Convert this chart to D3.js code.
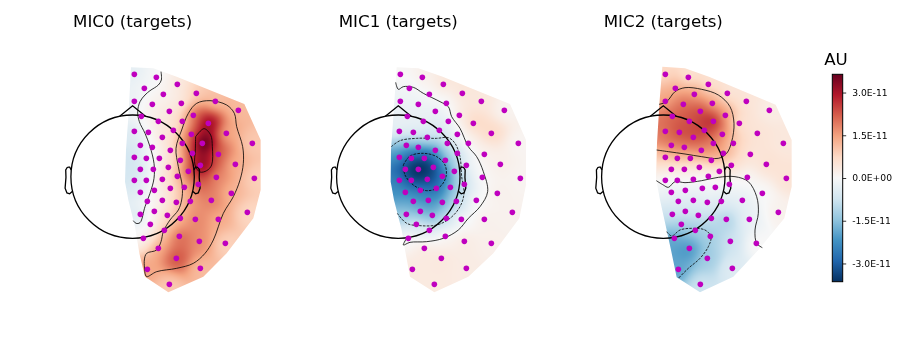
<!DOCTYPE html>
<html>
<head>
<meta charset="utf-8">
<script src="https://cdn.jsdelivr.net/npm/d3@7"></script>
<style>
  html, body { margin: 0; background: #fff; }
  #chart { position: relative; width: 900px; height: 355px; }
  #chart canvas, #chart svg { position: absolute; left: 0; top: 0; }
  text { font-family: "DejaVu Sans", sans-serif; }
</style>
</head>
<body>
<div id="chart"></div>
<script>
const titles = ["MIC0 (targets)", "MIC1 (targets)", "MIC2 (targets)"];

// Sensor positions
const sensorX0 = [253,319,283,382,340,439,253,307,394,496,358,430,565,274,325,397,475,253,295,370,337,424,529,271,307,361,397,457,607,253,289,328,391,427,505,271,310,355,415,451,556,253,289,337,382,499,613,271,313,361,403,445,544,292,337,379,421,484,271,313,352,391,436,505,592,301,343,388,448,526,280,325,379,451,292,358];
const sensorY0 = [73,82,115,103,133,130,154,163,160,154,184,196,181,199,214,214,220,244,247,241,262,253,250,286,292,301,280,280,280,322,325,325,331,310,313,358,358,352,364,346,343,391,391,388,379,382,385,427,421,415,412,403,430,454,451,457,454,451,493,484,496,505,508,508,487,523,541,559,574,580,565,595,625,655,658,703];
const sensorX1 = [241,307,268,370,328,427,241,295,379,484,346,418,553,262,310,385,460,238,280,358,322,412,514,259,295,346,382,445,595,238,274,313,376,412,493,256,295,340,403,439,541,238,274,322,367,487,601,256,301,349,391,433,532,280,325,367,409,469,259,301,337,379,424,493,577,289,328,376,433,514,265,313,364,439,277,343];
const sensorX2 = [241,310,271,370,328,427,241,295,382,484,346,421,553,262,313,385,463,241,283,358,325,412,517,259,298,349,385,445,595,241,277,316,379,415,496,259,298,343,403,439,544,241,277,325,370,487,604,259,301,352,391,433,532,280,325,367,409,472,262,301,340,379,424,493,580,289,331,376,436,514,268,313,367,442,280,346];

// Sensor values, in units of 1E-11 AU
const values0 = [-0.3,-0.03,-0.1,0.35,0.15,0.9,-0.2,0.15,0.5,1.2,0.4,1.9,1.2,0,0.3,1.0,3.0,-0.4,0,0.6,0.4,2.2,1.6,-0.4,0,0.6,1.5,3.5,1.0,-0.6,-0.2,0.2,1.2,2.6,2.3,-0.55,0,0.6,2.2,3.1,1.4,-0.55,-0.2,0.4,1.1,1.9,0.9,-0.35,0.1,0.6,1.3,2.1,1.3,-0.03,0.3,0.9,1.5,1.8,-0.3,0.2,0.7,1.3,1.7,1.4,0.8,0.1,1.0,1.9,1.7,0.9,0.2,1.3,2.2,1.2,1.4,1.0];
const values1 = [0.02,0.15,-0.1,0.35,0,0.4,-0.2,-0.2,0,0.4,-0.25,0.25,0.15,-0.3,-0.35,-0.25,0.6,-0.5,-0.6,-0.6,-0.9,-0.15,0.65,-1.7,-1.9,-2.0,-0.8,0.02,0.1,-2.3,-3.0,-3.1,-1.7,-0.8,0.15,-3.2,-3.6,-3.2,-1.4,-0.4,0.2,-2.6,-3.2,-3.2,-2.6,-0.02,0.1,-2.3,-2.6,-2.7,-1.7,-0.8,0.15,-2.0,-2.2,-1.8,-1.0,-0.1,-1.4,-1.7,-1.6,-0.8,-0.2,0.15,0.15,-0.7,-0.5,0,0.25,0.2,-0.1,0.25,0.35,0.3,0.35,0.35];
const values2 = [0.8,0.7,1.3,0.7,1.5,0.6,1.5,2.0,1.5,0.5,2.3,1.5,0.3,2.1,2.3,2.6,0.7,2.0,2.3,2.4,2.3,1.7,0.5,1.8,1.8,1.7,1.8,1.0,0.4,1.0,1.1,1.1,1.1,1.3,0.5,0.4,0.4,0.5,0.4,0.6,0.5,0.03,0.02,0.05,0.1,0.1,0.5,-0.25,-0.2,-0.15,-0.1,-0.05,0,-0.45,-0.45,-0.4,-0.45,-0.3,-0.8,-0.7,-0.8,-0.9,-1.0,-0.3,0.15,-1.2,-1.3,-1.2,-0.8,-0.02,-1.8,-2.0,-1.3,-0.5,-1.9,-0.8];

// Outlines of the interpolated area
const outline0 = [[243,52],[310,55],[380,80],[583,162],[632,270],[632,420],[610,505],[530,610],[460,680],[355,727],[285,680],[268,610],[255,530],[235,450],[225,395],[228,300],[235,200]];
const outline1 = [[230,52],[295,55],[368,80],[570,162],[618,270],[618,405],[598,505],[520,610],[445,680],[343,727],[270,680],[255,600],[245,540],[222,450],[212,395],[213,300],[220,200]];
const outline2 = [[232,50],[300,55],[372,80],[572,164],[620,270],[620,410],[598,505],[520,600],[445,680],[345,727],[275,682],[258,600],[245,540],[225,450],[213,385],[216,280],[224,150]];

// Contour lines, split in positive (solid) and negative (dashed)
const solid0 = [
  [[333,65],[334,90],[325,105],[300,122],[285,135],[270,155],[263,185],[268,215],[285,250],[300,290],[312,340],[312,385],[300,430],[285,470],[270,518],[258,520],[250,512]],
  [[285,670],[283,630],[290,610],[320,600],[333,575],[340,545],[360,510],[385,480],[395,450],[397,410],[385,350],[378,295],[395,240],[415,190],[440,160],[480,152],[530,165],[553,190],[560,230],[578,290],[580,340],[570,390],[550,440],[520,490],[490,570],[465,610],[430,640],[380,655],[320,665],[290,680],[285,670]],
  [[437,260],[462,236],[482,255],[487,290],[485,345],[470,362],[450,366],[435,345],[436,300],[437,260]]
];
const dashed0 = [];
const solid1 = [
  [[227,97],[235,118],[250,110],[280,112],[310,130],[360,155],[385,170],[395,200],[420,235],[445,290],[470,320],[490,365],[503,425],[480,470],[445,505],[415,540],[370,565],[320,575],[270,577],[250,585],[262,562]]
];
const dashed1 = [
  [[214,290],[240,272],[290,265],[350,265],[385,263],[405,280],[420,320],[425,380],[432,430],[420,470],[390,505],[350,525],[300,527],[260,520],[232,490]],
  [[250,345],[270,318],[310,310],[350,320],[375,345],[378,380],[360,410],[320,422],[280,405],[255,375],[250,345]]
];
const solid2 = [
  [[214,392],[235,405],[250,412],[270,395],[300,398],[350,392],[400,382],[450,380],[490,395],[515,440],[520,490],[510,540],[515,580],[532,593]],
  [[215,300],[250,305],[300,312],[350,320],[400,325],[425,310],[440,275],[447,220],[435,170],[400,135],[350,118],[300,113],[270,125],[245,155],[222,163]]
];
const dashed2 = [
  [[245,545],[260,558],[285,540],[320,535],[360,540],[378,560],[370,590],[345,625],[310,655],[280,685]]
];

// Head shape, in head radius units
const earX = [0.994,1.02,1.036,1.0598,1.0838,1.08,1.094,1.064,1.02,0.978];
const earY = [0.111,0.155,0.1566,0.1492,0.111,-0.011,-0.1864,-0.2626,-0.2768,-0.2398];
const noseX = [-0.2094,0,0.2094];
const noseY = [0.978,1.15,0.978];

// Colour bar
const colorStops = ["#053061","#2166ac","#4393c3","#92c5de","#d1e5f0","#f7f7f7","#fddbc7","#f4a582","#d6604d","#b2182b","#67001f"];
const colorTicks = [3, 1.5, 0, -1.5, -3];
const colorTickLabels = ["3.0E-11", "1.5E-11", "0.0E+00", "-1.5E-11", "-3.0E-11"];
const colorMax = 3.64;

const panels = [
  { title: titles[0], sx: sensorX0, values: values0, outline: outline0, solid: solid0, dashed: dashed0, left: 50, headX: 132.6 },
  { title: titles[1], sx: sensorX1, values: values1, outline: outline1, solid: solid1, dashed: dashed1, left: 320, headX: 398.3 },
  { title: titles[2], sx: sensorX2, values: values2, outline: outline2, solid: solid2, dashed: dashed2, left: 585, headX: 663.3 }
];

const W = 900;
const H = 355;
const headY = 176.7;
const headR = 61.7;

const container = d3.select("#chart");
const canvas = container.append("canvas").attr("width", W).attr("height", H).node();
const ctx = canvas.getContext("2d");
const svg = container.append("svg").attr("width", W).attr("height", H);

// Colour scale going through the RdBu stops
const color = d3
  .scaleLinear()
  .domain(colorStops.map((c, i) => -colorMax + (2 * colorMax * i) / (colorStops.length - 1)))
  .range(colorStops)
  .clamp(true);

// Smooth weighted average of the sensor values at a position of the read frame
function fieldAt(px, py, sx, sy, coef) {
  let sum = 0;
  let total = 0;
  for (let i = 0; i < coef.length; i++) {
    const dx = px - sx[i];
    const dy = py - sy[i];
    const w = 1 / Math.pow(dx * dx + dy * dy + 3600, 3);
    sum += w * coef[i];
    total += w;
  }
  return sum / total;
}

// Corrects the weights a few times so the surface comes back close to the sensor values
function fitSurface(sx, sy, values) {
  const coef = values.slice();
  for (let n = 0; n < 4; n++) {
    const residual = values.map((v, i) => v - fieldAt(sx[i], sy[i], sx, sy, coef));
    residual.forEach((r, i) => (coef[i] += r));
  }
  return coef;
}

panels.forEach(function (p) {
  const x = d3.scaleLinear().domain([0, 690]).range([p.left, p.left + 230]);
  const y = d3.scaleLinear().domain([0, 750]).range([50, 300]);
  const headScaleX = d3.scaleLinear().domain([-1, 1]).range([p.headX - headR, p.headX + headR]);
  const headScaleY = d3.scaleLinear().domain([-1, 1]).range([headY + headR, headY - headR]);

  // Paint the field on a small canvas, then clip it with the outline
  const coef = fitSurface(p.sx, sensorY0, p.values);
  const off = document.createElement("canvas");
  off.width = 230;
  off.height = 250;
  const offCtx = off.getContext("2d");
  const img = offCtx.createImageData(230, 250);
  for (let j = 0; j < 250; j++) {
    for (let i = 0; i < 230; i++) {
      const c = d3.rgb(color(fieldAt(x.invert(p.left + i + 0.5), y.invert(50 + j + 0.5), p.sx, sensorY0, coef)));
      const k = (j * 230 + i) * 4;
      img.data[k] = c.r;
      img.data[k + 1] = c.g;
      img.data[k + 2] = c.b;
      img.data[k + 3] = 255;
    }
  }
  offCtx.putImageData(img, 0, 0);

  const outlinePath = d3.line().x((d) => x(d[0])).y((d) => y(d[1])).context(ctx);
  ctx.save();
  ctx.beginPath();
  outlinePath(p.outline);
  ctx.closePath();
  ctx.clip();
  ctx.drawImage(off, p.left, 50);
  ctx.restore();

  const g = svg.append("g");

  // Contours
  const contourLine = d3.line().x((d) => x(d[0])).y((d) => y(d[1])).curve(d3.curveCatmullRom);
  g.selectAll(".solid")
    .data(p.solid)
    .enter()
    .append("path")
    .attr("d", contourLine)
    .attr("fill", "none")
    .attr("stroke", "#000")
    .attr("stroke-width", 0.8);
  g.selectAll(".dashed")
    .data(p.dashed)
    .enter()
    .append("path")
    .attr("d", contourLine)
    .attr("fill", "none")
    .attr("stroke", "#000")
    .attr("stroke-width", 0.8)
    .attr("stroke-dasharray", "2.6,1.2");

  // Head, ears and nose
  g.append("circle")
    .attr("cx", headScaleX(0))
    .attr("cy", headScaleY(0))
    .attr("r", headR)
    .attr("fill", "none")
    .attr("stroke", "#000")
    .attr("stroke-width", 1.3);
  const headLine = d3.line().x((d) => headScaleX(d[0])).y((d) => headScaleY(d[1]));
  const earRight = earX.map((v, i) => [v, earY[i]]);
  const earLeft = earX.map((v, i) => [-v, earY[i]]);
  const nose = noseX.map((v, i) => [v, noseY[i]]);
  [earRight, earLeft, nose].forEach(function (shape) {
    g.append("path")
      .attr("d", headLine(shape))
      .attr("fill", "none")
      .attr("stroke", "#000")
      .attr("stroke-width", 1.3);
  });

  // Sensors
  g.selectAll(".sensor")
    .data(p.values)
    .enter()
    .append("circle")
    .attr("class", "sensor")
    .attr("cx", (d, i) => x(p.sx[i]))
    .attr("cy", (d, i) => y(sensorY0[i]))
    .attr("r", 2.8)
    .attr("fill", "#bf00bf");

  g.append("text")
    .attr("x", p.headX)
    .attr("y", 27)
    .attr("text-anchor", "middle")
    .attr("font-size", 16.67)
    .attr("fill", "#000")
    .text(p.title);
});

// Colour bar with its axis
const barY = d3.scaleLinear().domain([colorMax, -colorMax]).range([74.3, 281.7]);
const gradient = svg
  .append("defs")
  .append("linearGradient")
  .attr("id", "bar")
  .attr("x1", 0)
  .attr("x2", 0)
  .attr("y1", 1)
  .attr("y2", 0);
gradient
  .selectAll("stop")
  .data(colorStops)
  .enter()
  .append("stop")
  .attr("offset", (d, i) => i / (colorStops.length - 1))
  .attr("stop-color", (d) => d);

svg.append("rect")
  .attr("x", 832.3)
  .attr("y", barY.range()[0])
  .attr("width", 10.4)
  .attr("height", barY.range()[1] - barY.range()[0])
  .attr("fill", "url(#bar)")
  .attr("stroke", "#000")
  .attr("stroke-width", 1);

const barAxis = svg
  .append("g")
  .attr("transform", "translate(842.7,0)")
  .call(
    d3.axisRight(barY)
      .tickValues(colorTicks)
      .tickSize(3.5)
      .tickPadding(6)
      .tickFormat((d, i) => colorTickLabels[i])
  );
barAxis.select(".domain").remove();
barAxis.selectAll("line").attr("stroke-width", 0.8);
barAxis.selectAll("text").attr("font-size", 9.2).attr("font-family", '"DejaVu Sans", sans-serif');

svg.append("text")
  .attr("x", 836)
  .attr("y", 65)
  .attr("text-anchor", "middle")
  .attr("font-size", 16.67)
  .attr("fill", "#000")
  .text("AU");
</script>
</body>
</html>
